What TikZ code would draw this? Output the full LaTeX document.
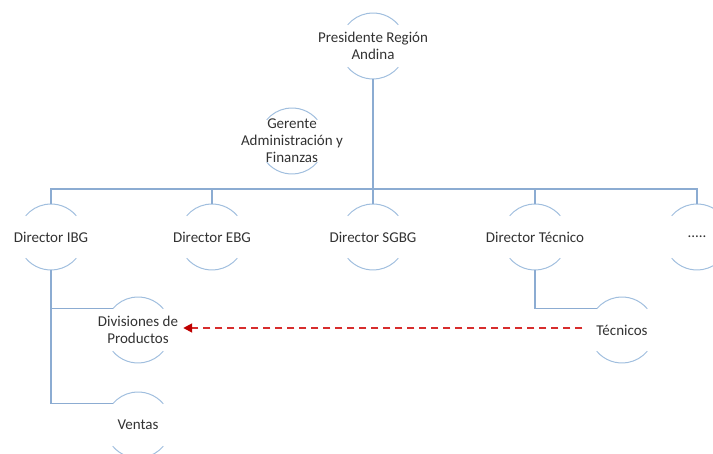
\documentclass[tikz,border=0pt]{standalone}
\usepackage{fontspec}
\setmainfont{Carlito}
\usetikzlibrary{arrows.meta,calc}
\definecolor{conn}{RGB}{140,172,210}
\definecolor{ring}{RGB}{160,190,222}
\definecolor{txt}{RGB}{50,50,50}
\definecolor{dashred}{RGB}{215,45,45}
\definecolor{tipred}{RGB}{190,0,0}
\tikzset{
  lbl/.style={inner sep=0pt, align=center, text=txt, font=\fontsize{15}{17}\selectfont},
  connector/.style={draw=conn, line width=1.4pt},
  ringarc/.style={draw=ring, line width=1pt},
  relation/.style={draw=dashred, line width=1.8pt, dash pattern=on 7pt off 5pt,
    -{Triangle[length=9pt,width=9pt,fill=tipred,color=tipred]}}
}
\begin{document}
\begin{tikzpicture}[x=1pt,y=1pt]
\useasboundingbox (0,0) rectangle (713,454);
\clip (0,0) rectangle (713,454);
% nodes
\node[lbl] (pres) at (373,408) {Presidente Región\\Andina};
\node[lbl] (ger) at (292,313) {Gerente\\Administración y\\Finanzas};
\node[lbl] (ibg) at (51,217) {Director IBG};
\node[lbl] (ebg) at (212,217) {Director EBG};
\node[lbl] (sgbg) at (373,217) {Director SGBG};
\node[lbl] (dtec) at (535,217) {Director Técnico};
\node[lbl] (more) at (697,217) {.....};
\node[lbl] (div) at (138,124) {Divisiones de\\Productos};
\node[lbl] (ven) at (138,29) {Ventas};
\node[lbl] (tecn) at (622,124) {Técnicos};
% ring arcs
\foreach \n in {pres,ger,ibg,ebg,sgbg,dtec,more,div,ven,tecn}{
  \draw[ringarc] ($(\n.center)+(40:33)$) arc[start angle=40,end angle=140,radius=33];
  \draw[ringarc] ($(\n.center)+(220:33)$) arc[start angle=220,end angle=320,radius=33];
}
% connectors
\coordinate (bar) at (373,265);
\draw[connector] ($(pres.center)+(0,-33)$) -- (bar);
\draw[connector] ($(ger.center)+(40:33)$) -- ($(ger.center)+(40:33)$ -| pres.center);
\draw[connector] ($(ibg.center)+(0,33)$) |- (bar -| more.center) -- ($(more.center)+(0,33)$);
\foreach \n in {ebg,sgbg,dtec}{
  \draw[connector] ($(\n.center)+(0,33)$) -- (bar -| \n.center);
}
\draw[connector] ($(ibg.center)+(0,-33)$) |- ($(div.center)+(140:33)$);
\draw[connector] ($(ibg.center)+(0,-33)$) |- ($(ven.center)+(140:33)$);
\draw[connector] ($(dtec.center)+(0,-33)$) |- ($(tecn.center)+(140:33)$);
% dashed relation
\draw[relation] ($(tecn.west)+(-14,2)$) -- ($(div.east)+(5,2)$);
\end{tikzpicture}
\end{document}
